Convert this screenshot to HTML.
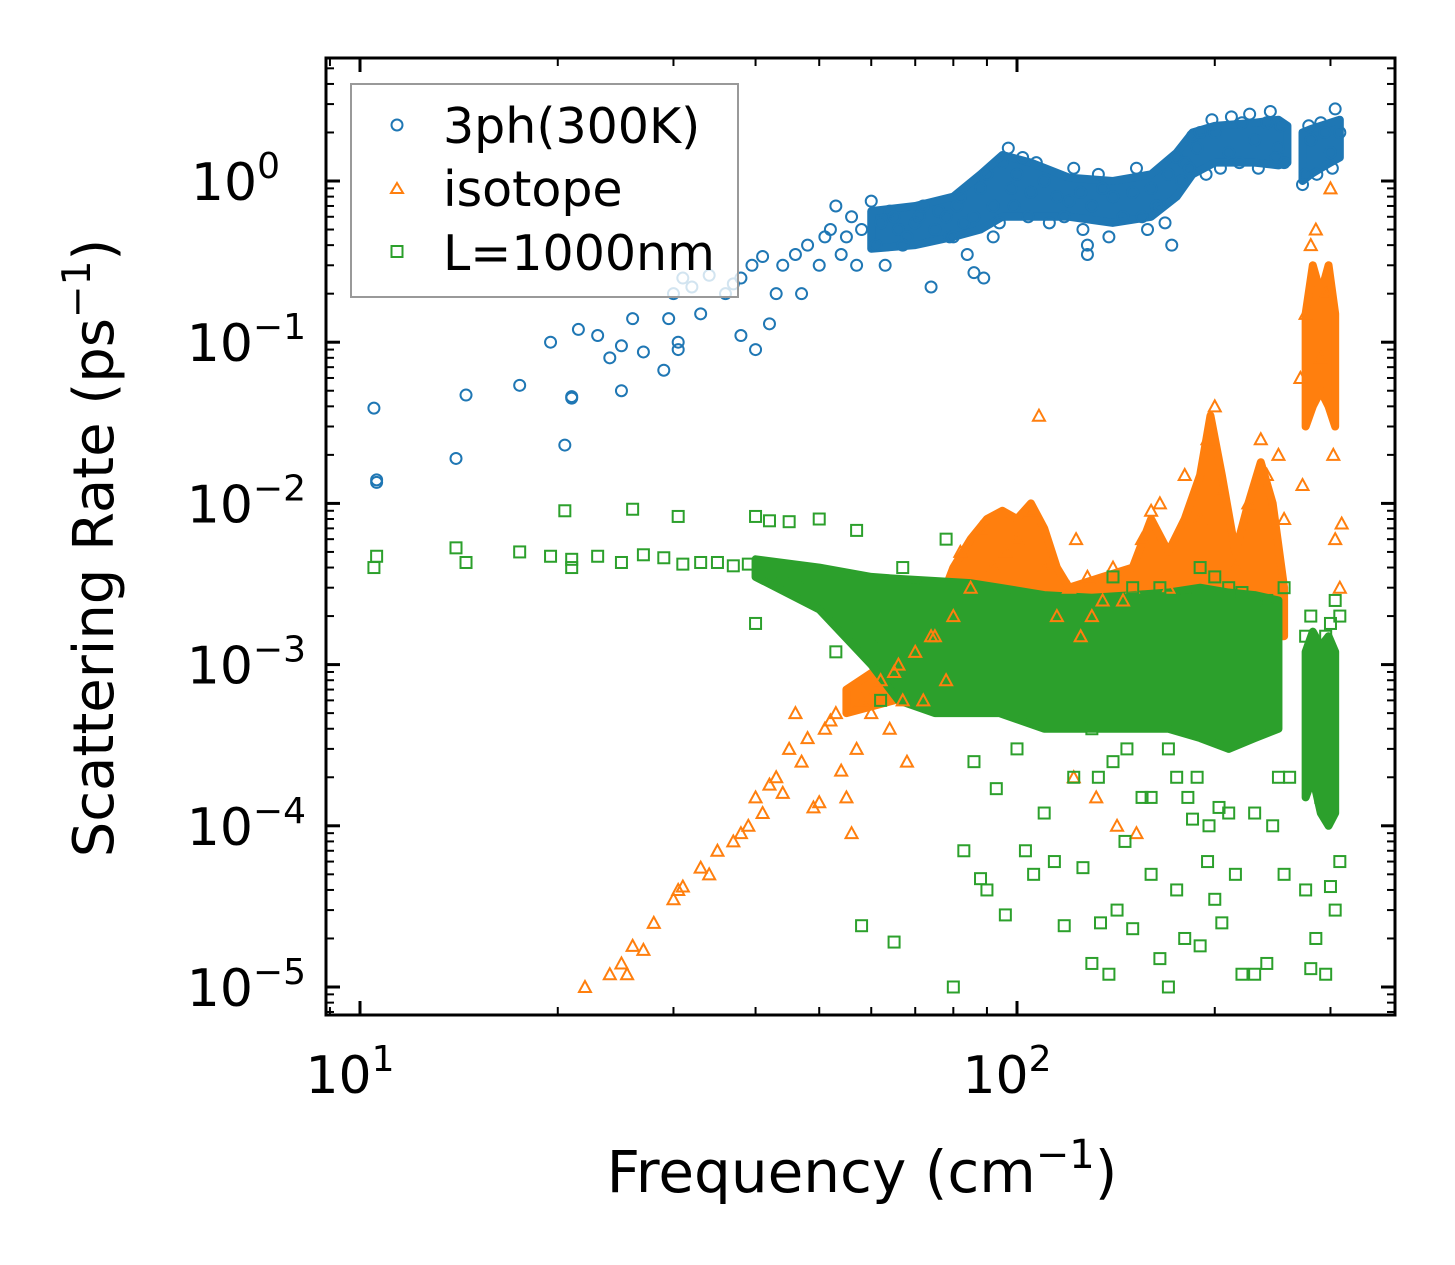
<!DOCTYPE html>
<html><head><meta charset="utf-8"><style>
html,body{margin:0;padding:0;background:#fff;}
svg{display:block;font-family:"DejaVu Sans","Liberation Sans",sans-serif;}
</style></head><body>
<svg id="chart" width="1455" height="1265" viewBox="0 0 1455 1265" xmlns="http://www.w3.org/2000/svg">
<rect width="1455" height="1265" fill="#fff"/>
<defs><clipPath id="clip"><rect x="326" y="58" width="1069" height="957"/></clipPath></defs>
<g id="bands" clip-path="url(#clip)"></g>
<g id="marks" clip-path="url(#clip)"></g>
<g id="axes"></g>
<g>
<rect x="351" y="84" width="387" height="213" fill="#fff" fill-opacity="0.8" stroke="#999" stroke-width="2"/>
<circle cx="397" cy="125" r="5.5" fill="none" stroke="#1f77b4" stroke-width="2"/>
<text x="443" y="143" font-size="49" fill="#000">3ph(300K)</text>
<polygon points="397,183 403,193 391,193" fill="none" stroke="#ff7f0e" stroke-width="2"/>
<text x="443" y="206" font-size="49" fill="#000">isotope</text>
<rect x="391.5" y="246" width="11" height="11" fill="none" stroke="#2ca02c" stroke-width="2"/>
<text x="443" y="270" font-size="49" fill="#000">L=1000nm</text>
</g>
<text x="862" y="1192" font-size="58" text-anchor="middle">Frequency (cm<tspan dy="-24" font-size="40">−1</tspan><tspan dy="24">)</tspan></text>
<text transform="translate(113,548) rotate(-90)" font-size="56" text-anchor="middle">Scattering Rate (ps<tspan dy="-23" font-size="39">−1</tspan><tspan dy="23">)</tspan></text>
</svg>
<script>
// ---- data ----
const blueF=[10.5,10.6,10.6,14,14.5,17.5,19.5,20.5,21,21,21.5,23,24,25,25,26,27,29,29.5,30,30.5,30.5,31,32,33,34,36,37,38,38,39.5,40,41,42,43,44,46,47,48,50,51,52,53,54,55,56,57,58,60,61,62,63,64,65,66,67,68,70,71,72,74,75,76,78,79,80,81,82,83,84,86,88,90,92,95,98,100,105,110,115,120,125,128,128,130,135,140,150,155,160,165,170,175,180,185,190,200,210,220,230,240,250,255,275,280,290,300,305,310,86,89,92,94,97,99,102,104,107,112,118,122,126,133,138,145,152,158,163,168,172,178,183,188,194,198,204,212,218,226,233,243,248,252,272,278,286,294,302,308];
const blueV=[0.039,0.014,0.0135,0.019,0.047,0.054,0.10,0.023,0.045,0.046,0.12,0.11,0.08,0.05,0.095,0.14,0.087,0.067,0.14,0.2,0.1,0.09,0.25,0.22,0.15,0.26,0.2,0.23,0.25,0.11,0.3,0.09,0.34,0.13,0.2,0.3,0.35,0.2,0.4,0.3,0.45,0.5,0.7,0.35,0.45,0.6,0.3,0.5,0.75,0.4,0.55,0.3,0.65,0.6,0.5,0.4,0.45,0.55,0.6,0.7,0.22,0.5,0.65,0.6,0.45,0.45,0.7,0.8,0.55,0.35,0.6,0.9,1.1,0.7,1.3,0.9,1.1,0.85,1.0,0.8,0.75,0.85,0.4,0.35,0.7,0.9,0.8,0.85,0.6,0.9,0.7,1.1,1.4,1.3,1.9,2.0,2.0,1.5,2.3,1.8,2.3,1.6,1.3,1.1,1.8,2.3,1.5,2.8,2.0,0.27,0.25,0.45,0.55,1.6,0.7,1.4,0.6,1.3,0.55,0.6,1.2,0.5,1.1,0.45,0.6,1.2,0.5,0.7,0.55,0.4,1.0,1.2,1.6,1.1,2.4,1.2,2.5,1.3,2.6,1.2,2.7,1.4,2.2,0.95,2.2,1.1,2.0,1.2];
const isoF=[22,24,25,25.5,26,27,28,30,30.5,31,33,34,35,37,38,39,40,41,42,43,44,45,46,47,48,49,50,51,52,53,54,55,56,57,58,60,61,62,64,65,66,67,68,70,72,74,75,78,80,82,85,88,92,96,100,105,108,110,115,120,123,125,128,130,135,140,145,150,155,160,165,170,180,190,195,200,205,215,225,235,240,250,255,270,272,275,280,285,290,295,300,303,305,310,312,122,132,142,152];
const isoV=[1e-5,1.2e-5,1.4e-5,1.2e-5,1.8e-5,1.7e-5,2.5e-5,3.5e-5,4e-5,4.2e-5,5.5e-5,5e-5,7e-5,8e-5,9e-5,1e-4,1.5e-4,1.2e-4,1.8e-4,2e-4,1.6e-4,3e-4,5e-4,2.5e-4,3.5e-4,1.3e-4,1.4e-4,4e-4,4.5e-4,5e-4,2.2e-4,1.5e-4,9e-5,3e-4,6e-4,5e-4,7e-4,8e-4,4e-4,9e-4,1e-3,6e-4,2.5e-4,1.2e-3,6e-4,1.5e-3,1.5e-3,8e-4,2e-3,5e-3,3e-3,7e-3,4e-3,5e-3,6e-3,9e-3,0.035,4e-3,2e-3,3e-3,6e-3,1.5e-3,3.5e-3,2e-3,2.5e-3,4e-3,2.5e-3,3e-3,6e-3,9e-3,0.01,3e-3,0.015,0.008,0.025,0.04,0.012,0.004,0.01,0.025,0.015,0.02,0.008,0.06,0.013,0.15,0.4,0.5,0.08,0.2,0.9,0.02,0.006,0.003,0.0075,2e-4,1.5e-4,1e-4,9e-5];
const grnF=[10.5,10.6,14,14.5,17.5,19.5,20.5,21,21,23,25,26,27,29,30.5,31,33,35,37,39,40,40,42,44,45,46,48,50,52,53,55,57,58,60,62,65,67,70,74,78,80,83,86,88,90,93,96,100,103,106,110,114,118,122,126,130,134,138,142,146,150,155,160,165,170,175,180,185,190,195,200,205,210,215,220,230,240,250,255,275,280,285,290,295,300,305,310,130,133,140,147,160,170,175,182,188,196,203,230,245,260,275,280,295,300,305,310,180,190,200,210,220,240,255,140,150,165];
const grnV=[4e-3,4.7e-3,5.3e-3,4.3e-3,5e-3,4.7e-3,9e-3,4e-3,4.5e-3,4.7e-3,4.3e-3,9.2e-3,4.8e-3,4.6e-3,8.3e-3,4.2e-3,4.3e-3,4.3e-3,4.1e-3,4.2e-3,8.3e-3,1.8e-3,7.8e-3,3.8e-3,7.7e-3,3.5e-3,3e-3,8e-3,2.5e-3,1.2e-3,2e-3,6.8e-3,2.4e-5,1.5e-3,6e-4,1.9e-5,4e-3,3e-3,2e-3,6e-3,1e-5,7e-5,2.5e-4,4.7e-5,4e-5,1.7e-4,2.8e-5,3e-4,7e-5,5e-5,1.2e-4,6e-5,2.4e-5,2e-4,5.5e-5,1.4e-5,2.5e-5,1.2e-5,3e-5,8e-5,2.3e-5,1.5e-4,5e-5,1.5e-5,1e-5,4e-5,2e-5,1.1e-4,1.8e-5,6e-5,3.5e-5,2.5e-5,1.2e-4,5e-5,1.2e-5,1.2e-5,1.4e-5,2e-4,5e-5,4e-5,1.3e-5,2e-5,1.5e-4,1.2e-5,4.2e-5,3e-5,6e-5,4e-4,2e-4,2.5e-4,3e-4,1.5e-4,3e-4,2e-4,1.5e-4,2e-4,1e-4,1.3e-4,1.2e-4,1e-4,2e-4,1.5e-3,2e-3,1.5e-3,1.8e-3,2.5e-3,2e-3,2.6e-3,4e-3,3.5e-3,3e-3,2.8e-3,2.5e-3,3e-3,3.5e-3,3e-3,3e-3,2.8e-3,3e-3];
// density envelopes of solid cores: [freq], [low], [high]
const blueBandF=[60,70,80,88,95,105,120,140,160,175,185,200,230,250,258];
const blueBandLo=[0.38,0.4,0.45,0.5,0.6,0.6,0.6,0.55,0.6,0.8,1.1,1.3,1.3,1.25,1.3];
const blueBandHi=[0.65,0.7,0.8,1.1,1.45,1.3,1.05,1.0,1.1,1.5,2.0,2.2,2.3,2.4,2.2];
const blueBand2F=[272,280,290,300,310];
const blueBand2Lo=[1.0,1.1,1.2,1.3,1.4];
const blueBand2Hi=[2.0,2.1,2.2,2.3,2.4];
const isoBandF=[55,65,75,80,85,90,95,100,105,110,115,120,135,150,160,170,180,190,197,205,215,225,235,245,255];
const isoBandLo=[5e-4,6e-4,8e-4,1e-3,1.2e-3,1.5e-3,1.5e-3,1.5e-3,1.5e-3,1.5e-3,1.5e-3,1.5e-3,1.5e-3,1.5e-3,1.5e-3,1.5e-3,1.5e-3,1.5e-3,1.5e-3,1.5e-3,1.5e-3,1.5e-3,1.5e-3,1.5e-3,1.5e-3];
const isoBandHi=[7e-4,1.1e-3,2e-3,4e-3,6e-3,8e-3,9e-3,8e-3,1e-2,7e-3,4e-3,3e-3,3.5e-3,4e-3,8e-3,5e-3,8e-3,1.5e-2,3.5e-2,1.5e-2,5e-3,1e-2,1.8e-2,1e-2,3e-3];
const isoBand2F=[275,282,290,298,305];
const isoBand2Lo=[0.03,0.04,0.05,0.04,0.03];
const isoBand2Hi=[0.15,0.3,0.2,0.3,0.15];
const grnBandF=[40,50,60,66,75,85,94,110,130,150,170,190,210,230,250];
const grnBandLo=[3.5e-3,2.2e-3,1e-3,6e-4,5e-4,5e-4,5e-4,4e-4,4e-4,4e-4,4e-4,3.5e-4,3e-4,3.5e-4,4e-4];
const grnBandHi=[4.5e-3,4e-3,3.5e-3,3.4e-3,3.3e-3,3.2e-3,3e-3,2.7e-3,2.6e-3,2.7e-3,2.8e-3,3e-3,2.8e-3,2.7e-3,2.5e-3];
const grnBand2F=[275,282,290,298,305];
const grnBand2Lo=[1.5e-4,2e-4,1.2e-4,1e-4,1.2e-4];
const grnBand2Hi=[1.2e-3,1.6e-3,1.3e-3,1.5e-3,1.2e-3];
const xMajor=[10,100];
const xMajorLabels=["1","2"];
const yMajorExp=[0,-1,-2,-3,-4,-5];
const yMajorLabels=["0","−1","−2","−3","−4","−5"];

// ---- axes ----
const L=326,R=1395,T=58,B=1015;
const X=f=>360+(Math.log10(f)-1)*657;
const Y=v=>181-Math.log10(v)*161.2;
const NS="http://www.w3.org/2000/svg";
const mk=(t,a,p)=>{const e=document.createElementNS(NS,t);for(const k in a)e.setAttribute(k,a[k]);p.appendChild(e);return e;};
const bands=document.getElementById('bands'),marks=document.getElementById('marks'),axes=document.getElementById('axes');

function band(F,lo,hi,color,name){
  const pts=F.map((f,i)=>X(f)+','+Y(hi[i])).concat(F.slice().reverse().map((f,j)=>{const i=F.length-1-j;return X(f)+','+Y(lo[i]);}));
  const p=mk('polygon',{points:pts.join(' '),fill:color,stroke:color,'stroke-width':8,'stroke-linejoin':'round'},bands);
  
  
}
band(blueBandF,blueBandLo,blueBandHi,'#1f77b4','band-3ph');
band(blueBand2F,blueBand2Lo,blueBand2Hi,'#1f77b4','band-3ph-high');
band(isoBandF,isoBandLo,isoBandHi,'#ff7f0e','band-isotope');
band(isoBand2F,isoBand2Lo,isoBand2Hi,'#ff7f0e','band-isotope-high');
band(grnBandF,grnBandLo,grnBandHi,'#2ca02c','band-boundary');
band(grnBand2F,grnBand2Lo,grnBand2Hi,'#2ca02c','band-boundary-high');

blueF.forEach((f,i)=>{const c=mk('circle',{cx:X(f),cy:Y(blueV[i]),r:5.5,fill:'none',stroke:'#1f77b4','stroke-width':2},marks);

});
isoF.forEach((f,i)=>{const x=X(f),y=Y(isoV[i]);const p=mk('polygon',{points:`${x},${y-6} ${x+6},${y+5} ${x-6},${y+5}`,fill:'none',stroke:'#ff7f0e','stroke-width':2},marks);

});
grnF.forEach((f,i)=>{const x=X(f),y=Y(grnV[i]);const r=mk('rect',{x:x-5.5,y:y-5.5,width:11,height:11,fill:'none',stroke:'#2ca02c','stroke-width':2},marks);

});

// ticks
function tick(x1,y1,x2,y2,w,name){const l=mk('line',{x1,y1,x2,y2,stroke:'#000','stroke-width':w},axes);

}
for(let d=0;d<=2;d++)for(let m=1;m<=9;m++){const f=m*Math.pow(10,d);const x=X(f);if(x<L||x>R)continue;
 const maj=(m===1);const len=maj?14:8,w=maj?3:2;
 tick(x,B,x,B-len,w,maj?'x-major-tick':'x-minor-tick');tick(x,T,x,T+len,w,maj?'x-major-tick':'x-minor-tick');}
for(let d=-6;d<=0;d++)for(let m=1;m<=9;m++){const v=m*Math.pow(10,d);const y=Y(v);if(y<T||y>B)continue;
 const maj=(m===1);const len=maj?14:8,w=maj?3:2;
 tick(L,y,L+len,y,w,maj?'y-major-tick':'y-minor-tick');tick(R,y,R-len,y,w,maj?'y-major-tick':'y-minor-tick');}
const fr=mk('rect',{x:L,y:T,width:R-L,height:B-T,fill:'none',stroke:'#000','stroke-width':3},axes);


xMajor.forEach((f,i)=>{const t=mk('text',{x:X(f)-10,y:1093,'font-size':52,'text-anchor':'middle'},axes);


t.innerHTML=`10<tspan dy="-22" font-size="36">${xMajorLabels[i]}</tspan>`;});
yMajorExp.forEach((e,i)=>{const t=mk('text',{x:e===0?280:306,y:Y(Math.pow(10,e))+19,'font-size':52,'text-anchor':'end'},axes);


t.innerHTML=`10<tspan dy="-22" font-size="36">${yMajorLabels[i]}</tspan>`;});
</script>
</body></html>
